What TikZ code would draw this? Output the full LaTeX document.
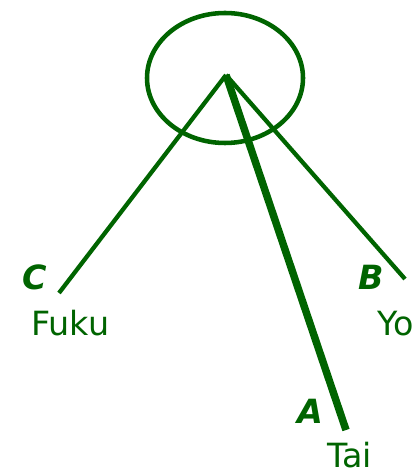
\documentclass[tikz,border=0pt]{standalone}
\usepackage{fontspec}
\setmainfont{DejaVu Sans}
\usetikzlibrary{shapes.geometric}
\definecolor{leafgreen}{RGB}{0,100,0}

\begin{document}
\begin{tikzpicture}[x=0.75pt,y=-0.75pt,
  every node/.style={text=leafgreen,font=\fontsize{25}{30}\selectfont,inner sep=0pt},
  branch/.style={draw=leafgreen,line width=3.2pt},
  tag/.style={font=\fontsize{25}{30}\selectfont\bfseries\itshape},
  who/.style={anchor=base west}]
\useasboundingbox (0,0) rectangle (413,473);
\node[draw=leafgreen,line width=3.4pt,ellipse,minimum width=117pt,minimum height=97.5pt] (hub) at (225,78) {};
\coordinate (top) at (226,75);
\coordinate (c) at (59,293);
\coordinate (b) at (405,279);
\coordinate (a) at (346,430);
\draw[branch] (top) -- (c);
\draw[branch] (top) -- (b);
\draw[branch,line width=5.6pt] (top) -- (a);
\node[tag] (lc) at (35,277) {C};
\node[tag] (lb) at (371,277) {B};
\node[tag] (la) at (310,411) {A};
\node[who] (fuku) at (31,335) {Fuku};
\node[who] (yo) at (377,335) {Yo};
\node[who] (tai) at (327,467) {Tai};
\end{tikzpicture}
\end{document}
